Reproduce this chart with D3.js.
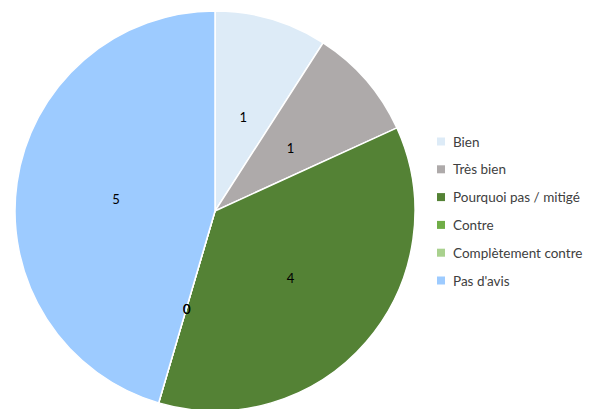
<!DOCTYPE html>
<html>
<head>
<meta charset="utf-8">
<script src="https://cdn.jsdelivr.net/npm/d3@7/dist/d3.min.js"></script>
<style>
  html, body { margin: 0; padding: 0; background: #fff; }
  svg { display: block; }
  text { font-family: Lato, "Open Sans", sans-serif; }
</style>
</head>
<body>
<svg id="chart" width="609" height="409"></svg>
<script>
// Answers and their counts
const categories = ["Bien", "Très bien", "Pourquoi pas / mitigé", "Contre", "Complètement contre", "Pas d'avis"];
const counts = [1, 1, 4, 0, 0, 5];
const colors = ["#DDEBF7", "#AEAAAA", "#548235", "#70AD47", "#A9D18E", "#9DCBFF"];

const svg = d3.select("#chart");
const cx = 215, cy = 211, radius = 200;

const pie = d3.pie().sort(null).value(d => d.value);
const arcs = pie(categories.map((c, i) => ({ name: c, value: counts[i], color: colors[i] })));
const arc = d3.arc().innerRadius(0).outerRadius(radius);

const g = svg.append("g").attr("transform", `translate(${cx},${cy})`);

g.selectAll("path")
  .data(arcs)
  .join("path")
  .attr("d", arc)
  .attr("fill", d => d.data.color)
  .attr("stroke", "#fff")
  .attr("stroke-width", 1.5);

// Value labels at the slice centroids
g.selectAll("text.value")
  .data(arcs)
  .join("text")
  .attr("class", "value")
  .attr("x", d => arc.centroid(d)[0])
  .attr("y", d => arc.centroid(d)[1] + 2)
  .attr("text-anchor", "middle")
  .attr("dominant-baseline", "central")
  .attr("font-size", 13)
  .attr("fill", "#000")
  .text(d => d.data.value);

// Legend
const legendX = 437, legendY = 141.5, rowH = 27.8;
const legend = svg.append("g");
const rows = legend.selectAll("g")
  .data(categories)
  .join("g")
  .attr("transform", (d, i) => `translate(${legendX},${legendY + i * rowH})`);

rows.append("rect")
  .attr("x", 0).attr("y", -4)
  .attr("width", 8).attr("height", 8)
  .attr("fill", (d, i) => colors[i]);

rows.append("text")
  .attr("x", 16).attr("y", 0)
  .attr("dominant-baseline", "central")
  .attr("font-size", 13.5)
  .attr("fill", "#404040")
  .text(d => d);
</script>
</body>
</html>
